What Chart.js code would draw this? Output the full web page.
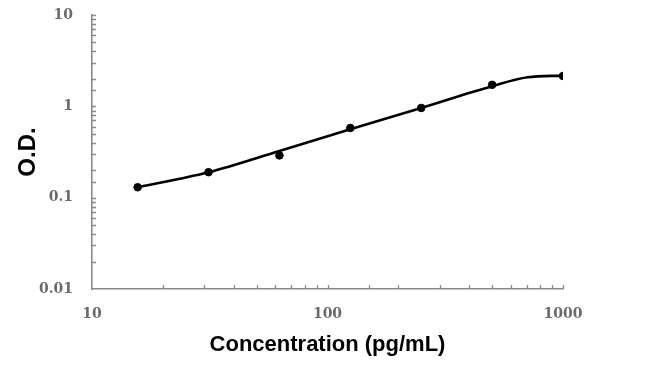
<!DOCTYPE html>
<html>
<head>
<meta charset="utf-8">
<script src="https://cdn.jsdelivr.net/npm/chart.js@4.4.1/dist/chart.umd.min.js"></script>
<style>
  html, body { margin: 0; padding: 0; background: #ffffff; }
  #wrap { width: 650px; height: 382px; position: relative; }
</style>
</head>
<body>
<div id="wrap"><canvas id="c" width="650" height="382"></canvas></div>
<script>
// Standard concentrations (pg/mL) and measured O.D.
const concentrations = [15.625, 31.25, 62.5, 125, 250, 500, 1000];
const odValues = [0.13, 0.19, 0.29, 0.58, 0.96, 1.72, 2.15];
// Fitted standard curve
const curveConc = [15.625, 31.25, 62.5, 125, 250, 500, 707, 1000];
const curveOD = [0.13, 0.19, 0.325, 0.56, 0.96, 1.66, 2.08, 2.17];
const xTickLabels = [10, 100, 1000];
const yTickLabels = [0.01, 0.1, 1, 10];
const xTitle = 'Concentration (pg/mL)';
const yTitle = 'O.D.';

const points = concentrations.map((c, i) => ({ x: c, y: odValues[i] }));
const curve = curveConc.map((c, i) => ({ x: c, y: curveOD[i] }));

const axisColor = '#8a8a8a';
const labelColor = '#6a6a6a';

function isLabelled(v, list) {
  return list.some(t => Math.abs(t - v) / t < 1e-6);
}

const innerTicks = {
  id: 'innerTicks',
  afterDatasetsDraw(chart) {
    const ctx = chart.ctx;
    const { x, y } = chart.scales;
    const area = chart.chartArea;
    ctx.save();
    ctx.strokeStyle = axisColor;
    ctx.lineWidth = 1.3;
    ctx.beginPath();
    x.ticks.forEach(t => {
      const px = Math.round(x.getPixelForValue(t.value)) + 0.5;
      if (px <= area.left + 1) return;
      ctx.moveTo(px, area.bottom);
      ctx.lineTo(px, area.bottom - 4);
    });
    y.ticks.forEach(t => {
      const py = Math.round(y.getPixelForValue(t.value)) + 0.5;
      if (py >= area.bottom - 1) return;
      ctx.moveTo(area.left, py);
      ctx.lineTo(area.left + 4, py);
    });
    ctx.stroke();
    ctx.restore();
  }
};

new Chart(document.getElementById('c'), {
  type: 'scatter',
  data: {
    datasets: [{
      data: curve,
      showLine: true,
      borderColor: '#000000',
      borderWidth: 2.6,
      pointRadius: 0,
      pointHoverRadius: 0,
      cubicInterpolationMode: 'monotone'
    }, {
      data: points,
      showLine: false,
      borderColor: '#000000',
      backgroundColor: '#000000',
      pointRadius: 3.8,
      pointHoverRadius: 3.8
    }]
  },
  options: {
    responsive: false,
    animation: false,
    events: [],
    layout: { padding: { left: 0, right: 87, top: 15, bottom: 0 } },
    plugins: { legend: { display: false }, tooltip: { enabled: false } },
    scales: {
      x: {
        type: 'logarithmic',
        min: 10,
        max: 1000,
        afterFit(scale) { scale.height = 93; },
        grid: { display: true, drawOnChartArea: false, drawTicks: false },
        border: { display: true, color: axisColor, width: 1.6 },
        ticks: {
          autoSkip: false,
          maxRotation: 0,
          padding: 17,
          color: labelColor,
          font: { family: 'DejaVu Serif', size: 14, weight: 'bold' },
          callback: (v) => isLabelled(v, xTickLabels) ? String(v) : ''
        },
        title: {
          display: true,
          text: xTitle,
          color: '#000000',
          font: { family: 'Liberation Sans', size: 22, weight: 'bold' },
          padding: { top: 0, bottom: 24 }
        }
      },
      y: {
        type: 'logarithmic',
        min: 0.01,
        max: 10,
        afterFit(scale) { scale.width = 92; },
        grid: {
          display: true,
          drawOnChartArea: false,
          drawTicks: true,
          tickLength: 19,
          tickColor: 'rgba(0,0,0,0)'
        },
        border: { display: true, color: axisColor, width: 1.6 },
        ticks: {
          autoSkip: false,
          padding: 0,
          color: labelColor,
          font: { family: 'DejaVu Serif', size: 14, weight: 'bold' },
          callback: (v) => isLabelled(v, yTickLabels) ? String(v) : ''
        },
        title: {
          display: true,
          text: yTitle,
          color: '#000000',
          font: { family: 'Liberation Sans', size: 24, weight: 'bold' },
          padding: { top: 14, bottom: 0 }
        }
      }
    }
  },
  plugins: [innerTicks]
});
</script>
</body>
</html>
